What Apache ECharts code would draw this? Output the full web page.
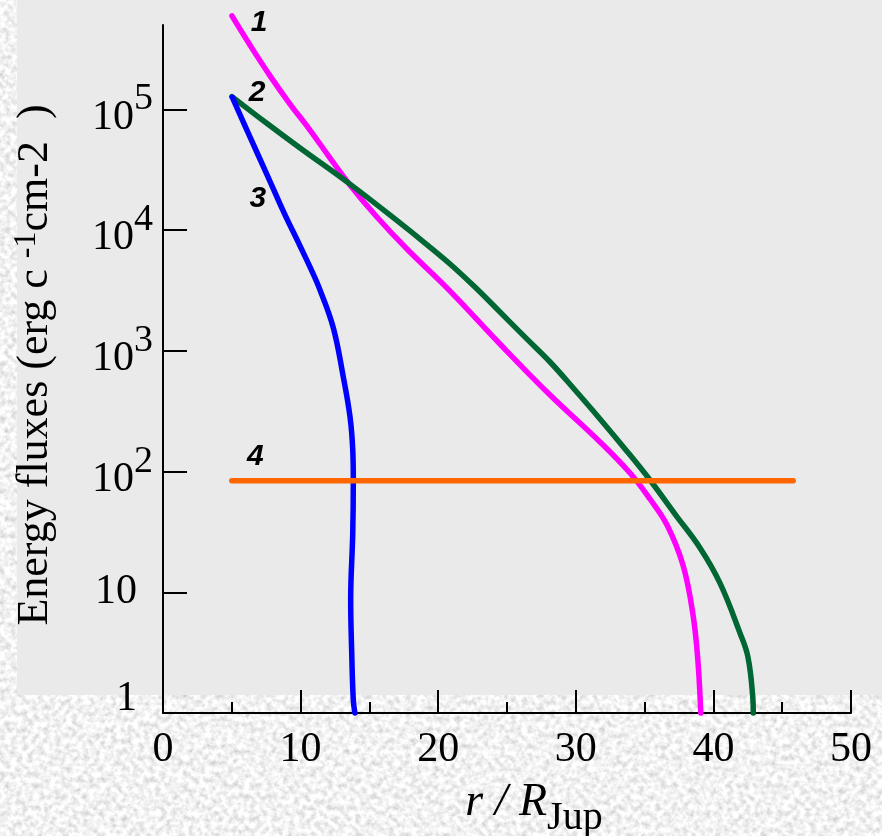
<!DOCTYPE html>
<html>
<head>
<meta charset="utf-8">
<script src="https://cdn.jsdelivr.net/npm/echarts@6/dist/echarts.min.js"></script>
<style>
  html, body { margin: 0; padding: 0; width: 882px; height: 836px; overflow: hidden; }
  body {
    background-color: #dcdcdc;
    background-image: url("data:image/svg+xml;utf8,<svg xmlns='http://www.w3.org/2000/svg' width='882' height='836'><filter id='g'><feTurbulence type='fractalNoise' baseFrequency='0.18' numOctaves='3' seed='7'/><feColorMatrix type='matrix' values='0.7 0 0 0 0.54  0.7 0 0 0 0.54  0.7 0 0 0 0.54  0 0 0 0 1'/></filter><rect width='882' height='836' filter='url(%23g)'/></svg>");
  }
  #panel { position: absolute; left: 17px; top: 0; width: 865px; height: 695px; background: #eaeaea; }
  #chart { position: absolute; left: 0; top: 0; width: 882px; height: 836px; }
</style>
</head>
<body>
<div id="panel"></div>
<div id="chart"></div>
<script>
// Curve 1: r / R_Jup and energy flux
const r1 = [5.01, 6.32, 7.78, 9.23, 10.68, 12.14, 13.59, 15.48, 17.73, 20.86, 24.49, 28.13, 31.76, 33.94, 35.39, 36.63, 37.79, 38.52, 38.88, 39.08];
const flux1 = [5.96e5, 3.42e5, 1.90e5, 1.11e5, 6.76e4, 3.96e4, 2.37e4, 1.31e4, 6.98e3, 3.13e3, 1.14e3, 431, 176, 97.3, 59.3, 36.1, 16.8, 6.49, 2.65, 1];

// Curve 2
const r2 = [5.01, 7.54, 9.96, 13.59, 17.22, 19.04, 20.86, 22.67, 24.49, 26.31, 28.13, 29.94, 31.76, 33.58, 35.39, 37.21, 39.03, 40.48, 41.93, 42.51, 42.86, 42.90];
const flux2 = [1.28e5, 7.69e4, 4.80e4, 2.41e4, 1.15e4, 7.83e3, 5.25e3, 3.38e3, 2.10e3, 1.30e3, 809, 474, 273, 154, 85.2, 44.5, 23.3, 11.9, 4.60, 2.91, 1.36, 1];

// Curve 3
const r3 = [5.04, 6.32, 7.54, 8.74, 9.96, 10.68, 11.41, 12.38, 13.10, 13.59, 13.79, 13.83, 13.79, 13.64, 13.71, 13.83, 13.95];
const flux3 = [1.26e5, 5.92e4, 2.92e4, 1.44e4, 7.40e3, 4.96e3, 3.20e3, 1.55e3, 611, 285, 151, 85.2, 31.0, 8.63, 3.33, 1.28, 1];

// Curve 4 (constant level)
const r4 = [5.0, 45.8];
const flux4 = [84, 84];

// Curve numbers and where they sit
const curveNames = ['1', '2', '3', '4'];
const curveColors = ['#ff00ff', '#006633', '#0000ff', '#ff6600'];
const labelR = [6.98, 6.83, 6.90, 6.72];
const labelFlux = [5.26e5, 1.37e5, 1.81e4, 133];

// Axis ticks
const yTickValues = [1, 10, 100, 1000, 10000, 100000];
const yTickBase = ['1', '10', '10', '10', '10', '10'];
const yTickExp = ['', '', '2', '3', '4', '5'];
const xTickValues = [0, 10, 20, 30, 40, 50];

const serif = 'Liberation Serif';
const pairs = (xs, ys) => xs.map((x, i) => [x, ys[i]]);
const curves = [pairs(r1, flux1), pairs(r2, flux2), pairs(r3, flux3), pairs(r4, flux4)];

function yLabel(v) {
  const lv = Math.log10(v);
  const i = yTickValues.findIndex(t => Math.abs(Math.log10(t) - lv) < 1e-6);
  if (i < 0) return '';
  if (i === 0) return '{one|' + yTickBase[i] + '}';
  if (!yTickExp[i]) return '{plain|' + yTickBase[i] + '}';
  return '{base|' + yTickBase[i] + '}{sup|' + yTickExp[i] + '}';
}

const chart = echarts.init(document.getElementById('chart'), null, { renderer: 'canvas' });

const lineSeries = curves.map((d, i) => ({
  type: 'line',
  data: d,
  symbol: 'none',
  smooth: i === 3 ? false : 0.4,
  clip: false,
  z: 3,
  lineStyle: { color: curveColors[i], width: 5.5, cap: 'round', join: 'round' }
}));

const numberSeries = {
  type: 'scatter',
  clip: false,
  symbolSize: 1,
  itemStyle: { color: 'rgba(0,0,0,0)' },
  z: 4,
  data: curveNames.map((n, i) => ({ name: n, value: [labelR[i], labelFlux[i]] })),
  label: {
    show: true,
    position: 'inside',
    formatter: '{b}',
    fontFamily: 'Liberation Sans',
    fontWeight: 'bold',
    fontStyle: 'italic',
    fontSize: 30,
    color: '#000',
    textBorderWidth: 0,
    opacity: 1
  }
};

chart.setOption({
  animation: false,
  backgroundColor: 'transparent',
  grid: { left: 163, right: 31, top: 25, bottom: 123, containLabel: false, outerBoundsMode: 'none' },
  xAxis: {
    type: 'value',
    min: 0,
    max: 50,
    interval: 10,
    axisLine: { show: true, lineStyle: { color: '#000', width: 2 } },
    axisTick: { show: true, inside: true, length: 23, lineStyle: { color: '#000', width: 2 } },
    minorTick: { show: true, splitNumber: 2, length: 11, lineStyle: { color: '#000', width: 2 } },
    splitLine: { show: false },
    axisLabel: {
      margin: 16,
      fontFamily: serif,
      fontSize: 42,
      color: '#000',
      formatter: v => {
        const i = xTickValues.indexOf(Math.round(v));
        return i >= 0 ? String(xTickValues[i]) : '';
      }
    },
    name: '{it|r / R}{sub|Jup}',
    nameLocation: 'middle',
    nameGap: 55,
    nameTextStyle: {
      rich: {
        it: { fontFamily: serif, fontStyle: 'italic', fontSize: 46, color: '#000', padding: [0, 0, 0, 54] },
        sub: { fontFamily: serif, fontSize: 40, color: '#000', padding: [30, 0, 0, 0] }
      }
    }
  },
  yAxis: {
    type: 'log',
    logBase: 10,
    min: 1,
    max: 501187,
    axisLine: { show: true, lineStyle: { color: '#000', width: 2 } },
    axisTick: { show: true, inside: true, length: 24, customValues: yTickValues, lineStyle: { color: '#000', width: 2 } },
    minorTick: { show: false },
    splitLine: { show: false },
    axisLabel: {
      customValues: yTickValues,
      margin: 10,
      formatter: yLabel,
      rich: {
        one: { fontFamily: serif, fontSize: 42, color: '#000', padding: [0, 16, 28, 0] },
        plain: { fontFamily: serif, fontSize: 42, color: '#000', padding: [0, 16, 0, 0] },
        base: { fontFamily: serif, fontSize: 42, color: '#000', padding: [16, 0, 0, 0] },
        sup: { fontFamily: serif, fontSize: 38, color: '#000', padding: [0, 0, 20, 0] }
      }
    },
    name: '{t|Energy fluxes (erg c }{s|-1}{t|cm-2  )}',
    nameLocation: 'middle',
    nameRotate: 90,
    nameGap: 104,
    nameTextStyle: {
      padding: [0, 0, 0, 8],
      rich: {
        t: { fontFamily: serif, fontSize: 44, color: '#000' },
        s: { fontFamily: serif, fontSize: 32, color: '#000', padding: [0, 0, 16, 0] }
      }
    }
  },
  series: [...lineSeries, numberSeries]
});
</script>
</body>
</html>
